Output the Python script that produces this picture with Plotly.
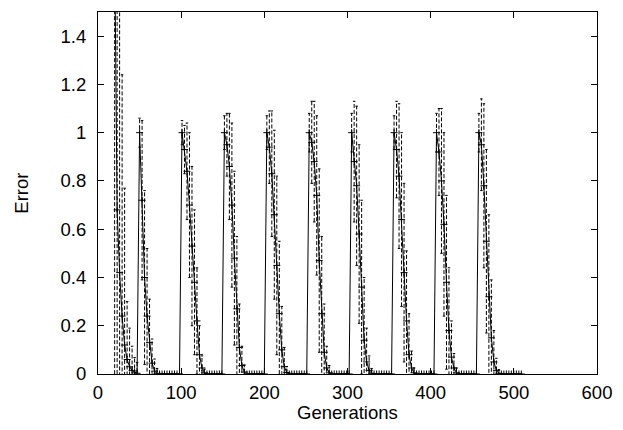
import plotly.graph_objects as go

# Generations sampled (every 3 generations)
generations = list(range(2, 510, 3))

# Mean error per sampled generation (cycle by cycle)
error_mean = (
    # initial phase, gens 2..47
    [3.40, 3.05, 2.75, 2.50, 2.25, 2.05, 1.80, 0.68, 0.42, 0.24, 0.12, 0.06, 0.03, 0.015, 0.008, 0.003]
    # change at gen 50
    + [1.00, 0.72, 0.40, 0.24, 0.13, 0.045, 0.012, 0.003, 0, 0, 0, 0, 0, 0, 0, 0, 0]
    # change at gen 101
    + [1.00, 0.93, 0.84, 0.70, 0.53, 0.38, 0.22, 0.08, 0.025, 0.005, 0, 0, 0, 0, 0, 0, 0]
    # change at gen 152
    + [1.00, 0.95, 0.86, 0.70, 0.48, 0.27, 0.11, 0.035, 0.008, 0, 0, 0, 0, 0, 0, 0, 0]
    # change at gen 203
    + [1.00, 0.94, 0.83, 0.66, 0.45, 0.25, 0.10, 0.03, 0.006, 0, 0, 0, 0, 0, 0, 0, 0]
    # change at gen 254
    + [1.00, 0.96, 0.88, 0.74, 0.47, 0.25, 0.09, 0.025, 0.005, 0, 0, 0, 0, 0, 0, 0, 0]
    # change at gen 305
    + [1.00, 0.88, 0.78, 0.58, 0.36, 0.14, 0.05, 0.015, 0.003, 0, 0, 0, 0, 0, 0, 0, 0]
    # change at gen 356
    + [1.00, 0.93, 0.82, 0.64, 0.42, 0.22, 0.08, 0.025, 0.005, 0, 0, 0, 0, 0, 0, 0, 0]
    # change at gen 407
    + [1.00, 0.92, 0.80, 0.62, 0.38, 0.18, 0.07, 0.025, 0.005, 0, 0, 0, 0, 0, 0, 0, 0]
    # change at gen 458
    + [1.00, 0.95, 0.78, 0.55, 0.32, 0.15, 0.05, 0.015, 0.003, 0, 0, 0, 0, 0, 0, 0, 0]
    + [0]
)

# Error-bar half-heights
error_dev = (
    [0.50, 0.45, 0.42, 0.40, 0.38, 0.35, 1.90, 1.60, 1.30, 1.00, 0.65, 0.24, 0.16, 0.10, 0.06, 0.045]
    + [0.06, 0.33, 0.36, 0.28, 0.18, 0.10, 0.05, 0.02, 0, 0, 0, 0, 0, 0, 0, 0, 0]
    + [0.05, 0.10, 0.20, 0.30, 0.33, 0.30, 0.22, 0.12, 0.05, 0.015, 0, 0, 0, 0, 0, 0, 0]
    + [0.07, 0.13, 0.22, 0.34, 0.36, 0.30, 0.18, 0.08, 0.03, 0, 0, 0, 0, 0, 0, 0, 0]
    + [0.07, 0.15, 0.26, 0.35, 0.37, 0.30, 0.18, 0.08, 0.025, 0, 0, 0, 0, 0, 0, 0, 0]
    + [0.08, 0.17, 0.25, 0.33, 0.38, 0.32, 0.20, 0.09, 0.03, 0, 0, 0, 0, 0, 0, 0, 0]
    + [0.08, 0.25, 0.33, 0.37, 0.36, 0.26, 0.14, 0.06, 0.02, 0, 0, 0, 0, 0, 0, 0, 0]
    + [0.07, 0.20, 0.30, 0.36, 0.37, 0.29, 0.17, 0.07, 0.02, 0, 0, 0, 0, 0, 0, 0, 0]
    + [0.08, 0.18, 0.30, 0.38, 0.36, 0.26, 0.15, 0.06, 0.02, 0, 0, 0, 0, 0, 0, 0, 0]
    + [0.08, 0.19, 0.34, 0.38, 0.34, 0.24, 0.13, 0.05, 0.015, 0, 0, 0, 0, 0, 0, 0, 0]
    + [0]
)

x_ticks = [0, 100, 200, 300, 400, 500, 600]
y_ticks = [0, 0.2, 0.4, 0.6, 0.8, 1.0, 1.2, 1.4]

CAP = 1.5  # cap half-width in generations (style)

bar_x, bar_y, cap_x, cap_y = [], [], [], []
for g, m, e in zip(generations, error_mean, error_dev):
    if e <= 0:
        continue
    bar_x += [g, g, None]
    bar_y += [m - e, m + e, None]
    for yy in (m - e, m + e):
        cap_x += [g - CAP, g + CAP, None]
        cap_y += [yy, yy, None]

fig = go.Figure()
fig.add_trace(go.Scatter(x=bar_x, y=bar_y, mode="lines",
                         line=dict(color="black", width=1, dash="4px,2px"),
                         hoverinfo="skip", showlegend=False))
fig.add_trace(go.Scatter(x=cap_x, y=cap_y, mode="lines",
                         line=dict(color="black", width=1),
                         hoverinfo="skip", showlegend=False))
fig.add_trace(go.Scatter(x=generations, y=error_mean, mode="lines+markers",
                         line=dict(color="black", width=1),
                         marker=dict(symbol="cross-thin", size=5,
                                     line=dict(color="black", width=1)),
                         showlegend=False))

font = dict(family="Liberation Sans, Arial, sans-serif", size=18.5, color="black")

axis_common = dict(showline=True, linecolor="black", linewidth=1, mirror="allticks",
                   ticks="inside", ticklen=6, tickwidth=1, tickcolor="black",
                   showgrid=False, zeroline=False, tickfont=font)

fig.update_xaxes(range=[0, 600], tickvals=x_ticks, ticklabelstandoff=2, **axis_common)
fig.update_yaxes(range=[0, 1.5], tickvals=y_ticks, ticklabelstandoff=7, **axis_common)

fig.update_layout(
    width=623, height=430,
    margin=dict(l=98, r=21, t=11, b=56),
    paper_bgcolor="white", plot_bgcolor="white",
    font=font,
    annotations=[
        dict(text="Generations", x=0.5, y=-0.105, xref="paper", yref="paper",
             xanchor="center", yanchor="middle", showarrow=False, font=font),
        dict(text="Error", x=-0.155, y=0.5, xref="paper", yref="paper",
             xanchor="center", yanchor="middle", textangle=-90, showarrow=False, font=font),
    ],
)

fig.write_html("out.html")
